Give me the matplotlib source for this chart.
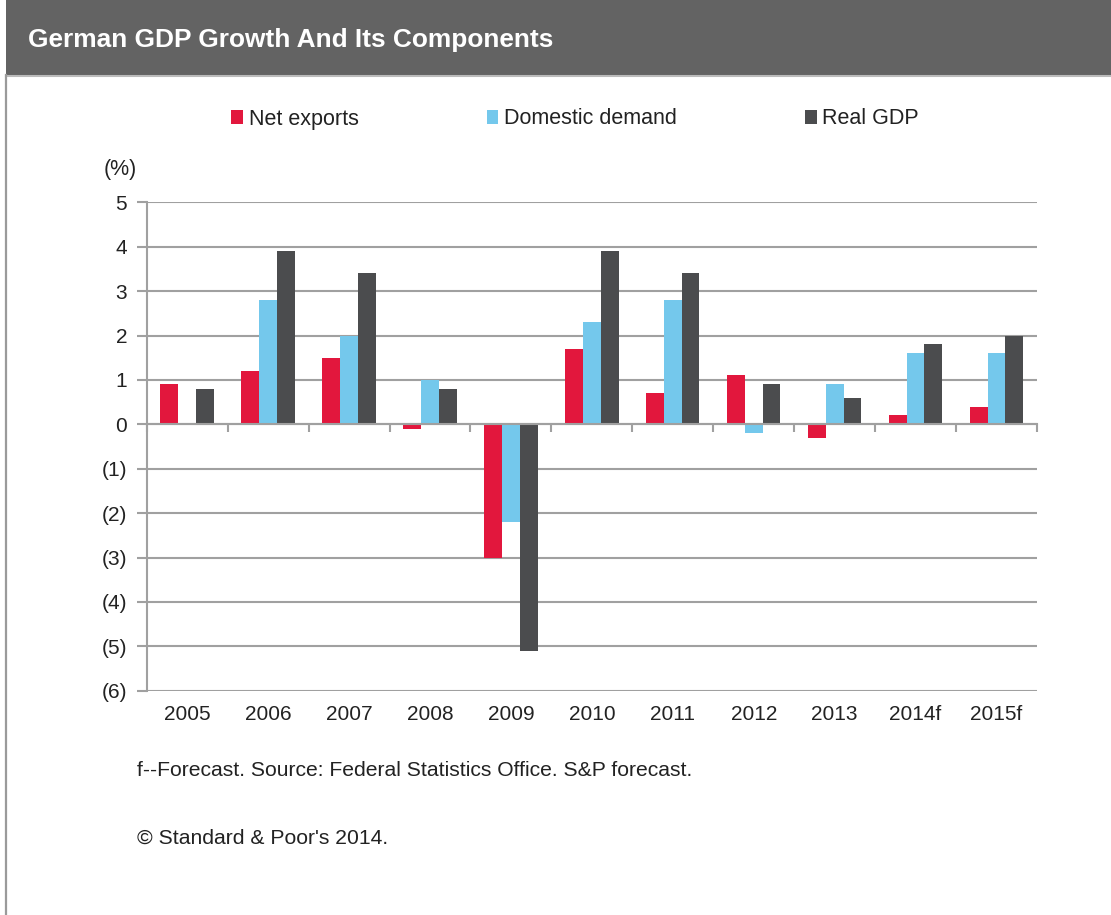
import matplotlib
matplotlib.use("Agg")
import matplotlib.pyplot as plt
from matplotlib.patches import Rectangle
from matplotlib.lines import Line2D
import numpy as np

years = ["2005", "2006", "2007", "2008", "2009", "2010", "2011", "2012", "2013", "2014f", "2015f"]
net_exports = [0.9, 1.2, 1.5, -0.1, -3.0, 1.7, 0.7, 1.1, -0.3, 0.2, 0.4]
domestic_demand = [0.0, 2.8, 2.0, 1.0, -2.2, 2.3, 2.8, -0.2, 0.9, 1.6, 1.6]
real_gdp = [0.8, 3.9, 3.4, 0.8, -5.1, 3.9, 3.4, 0.9, 0.6, 1.8, 2.0]
series_names = ["Net exports", "Domestic demand", "Real GDP"]
series_colors = ["#E2173D", "#74C8EC", "#4B4C4E"]
y_ticks = [5, 4, 3, 2, 1, 0, -1, -2, -3, -4, -5, -6]
y_labels = ["5", "4", "3", "2", "1", "0", "(1)", "(2)", "(3)", "(4)", "(5)", "(6)"]

W, H = 1111, 915
plt.rcParams["font.family"] = ["Liberation Sans", "DejaVu Sans"]
fig = plt.figure(figsize=(W / 100, H / 100), dpi=100)
fig.patch.set_facecolor("white")


def fx(px):
    return px / W


def fy(py):
    return 1 - py / H


# Header band and frame
fig.patches.append(Rectangle((fx(6), fy(75)), 1 - fx(6), 75 / H, transform=fig.transFigure,
                             facecolor="#636363", edgecolor="none", zorder=0))
fig.lines.append(Line2D([fx(6), 1], [fy(75.5), fy(75.5)], transform=fig.transFigure,
                        color="#BBBBBB", lw=1.5))
fig.lines.append(Line2D([fx(6), fx(6)], [fy(75), 0], transform=fig.transFigure,
                        color="#9A9A9A", lw=1.6))
fig.text(fx(28), fy(40), "German GDP Growth And Its Components", color="white",
         fontsize=18.9, fontweight="bold", va="center", ha="left")

ax = fig.add_axes([fx(146.7), fy(690.7), fx(1037) - fx(146.7), fy(202.3) - fy(690.7)])
ax.set_xlim(0, len(years))
ax.set_ylim(-6, 5)

x = np.arange(len(years)) + 0.5
bw = 0.22
for k, (vals, name, col) in enumerate(zip([net_exports, domestic_demand, real_gdp],
                                          series_names, series_colors)):
    ax.bar(x + (k - 1) * bw, vals, width=bw, color=col, label=name, zorder=3,
           edgecolor="none")

# Horizontal gridlines
ax.set_yticks(y_ticks)
ax.set_yticklabels(y_labels)
ax.yaxis.grid(True, color="#A0A0A0", lw=1.5, zorder=1)
ax.tick_params(axis="y", length=7, width=1.5, color="#A0A0A0", labelsize=15,
               labelcolor="#222222", pad=7)

for s in ["top", "right"]:
    ax.spines[s].set_visible(False)
ax.spines["left"].set_color("#A0A0A0")
ax.spines["left"].set_linewidth(1.5)
ax.spines["bottom"].set_position(("data", 0))
ax.spines["bottom"].set_color("#A0A0A0")
ax.spines["bottom"].set_linewidth(1.5)
ax.spines["bottom"].set_zorder(4)

# Category boundary ticks on the zero line
ax.set_xticks(np.arange(len(years) + 1))
ax.set_xticklabels([])
ax.tick_params(axis="x", length=6, width=1.5, color="#A0A0A0", direction="out")

# Category labels below the plot area
sec = ax.secondary_xaxis("bottom")
sec.set_xticks(x)
sec.set_xticklabels(years)
sec.tick_params(length=0, labelsize=15, labelcolor="#222222", pad=10)
sec.spines["bottom"].set_visible(False)

fig.text(fx(104), fy(170), "(%)", fontsize=15.5, color="#222222", va="center", ha="left")

handles = [Rectangle((0, 0), 1, 1, facecolor=c, edgecolor="none") for c in series_colors]
fig.legend(handles, series_names, loc="center left", bbox_to_anchor=(fx(212), fy(119)),
           ncol=3, frameon=False, fontsize=15.5, handlelength=0.55, handleheight=0.6,
           handletextpad=0.25, columnspacing=5.95, labelcolor="#222222")

fig.text(fx(137), fy(771), "f--Forecast. Source: Federal Statistics Office. S&P forecast.",
         fontsize=15.2, color="#222222", va="center", ha="left")
fig.text(fx(137), fy(838), "\u00a9 Standard & Poor's 2014.",
         fontsize=15.2, color="#222222", va="center", ha="left")

fig.savefig("out.png", dpi=100, facecolor="white")
